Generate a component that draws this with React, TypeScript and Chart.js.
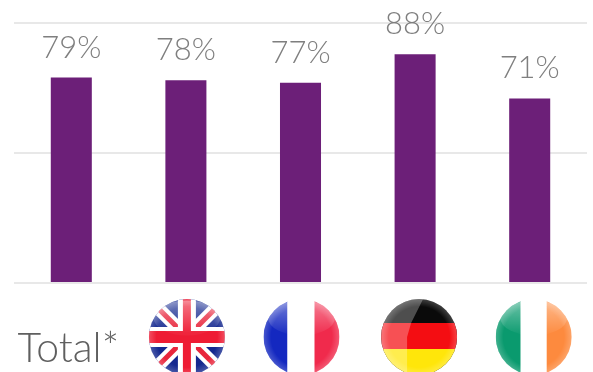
import React, { useEffect, useRef } from "react";
import { Chart, registerables } from "chart.js";

Chart.register(...registerables);

const categories = ["Total*", "UK", "France", "Germany", "Ireland"];
const shares = [79, 78, 77, 88, 71];
const yTicks = [0, 50, 100];

const FONT = "Lato, 'Open Sans', sans-serif";
const FLAG_RADIUS = 38;
const FLAG_CENTER_Y = 337;
const flagNudge: Record<string, number> = { UK: 1, France: 1, Germany: 4, Ireland: 4 };

type Ctx = CanvasRenderingContext2D;

function drawUnionJack(c: Ctx, r: number) {
  c.fillStyle = "#14288f";
  c.fillRect(-r, -r, 2 * r, 2 * r);
  const bar = (w: number, color: string, x1: number, y1: number, x2: number, y2: number) => {
    c.strokeStyle = color;
    c.lineWidth = w;
    c.beginPath();
    c.moveTo(x1, y1);
    c.lineTo(x2, y2);
    c.stroke();
  };
  bar(13, "#fff", -r, -r, r, r);
  bar(13, "#fff", -r, r, r, -r);
  bar(5, "#e8263c", -r, -r, r, r);
  bar(5, "#e8263c", -r, r, r, -r);
  bar(18, "#fff", 0, -r, 0, r);
  bar(20, "#fff", -r, 0, r, 0);
  bar(8, "#ee1c34", 0, -r, 0, r);
  bar(12, "#ee1c34", -r, 0, r, 0);
}

function drawVerticalTricolour(c: Ctx, r: number, colors: string[], left: number, right: number) {
  c.fillStyle = colors[0];
  c.fillRect(-r, -r, r + left, 2 * r);
  c.fillStyle = colors[1];
  c.fillRect(left, -r, right - left, 2 * r);
  c.fillStyle = colors[2];
  c.fillRect(right, -r, r - right, 2 * r);
}

function drawGermanBands(c: Ctx, r: number) {
  c.fillStyle = "#0a0a0a";
  c.fillRect(-r, -r, 2 * r, 2 * r);
  c.fillStyle = "#f40d12";
  c.fillRect(-r, -14, 2 * r, 27);
  c.fillStyle = "#ffe60a";
  c.fillRect(-r, 12, 2 * r, r);
  // Faceted highlight over the left of the sphere
  c.fillStyle = "rgba(255,255,255,0.28)";
  c.beginPath();
  c.moveTo(-r, -r);
  c.lineTo(4, -r);
  c.lineTo(-8, -14);
  c.lineTo(-12, 0);
  c.lineTo(-12, r);
  c.lineTo(-r, r);
  c.closePath();
  c.fill();
}

const flagPlugin = {
  id: "flagBadges",
  afterDraw(chart: any) {
    const c: Ctx = chart.ctx;
    const x = chart.scales.x;
    categories.forEach((name, i) => {
      if (!(name in flagNudge)) return;
      const r = FLAG_RADIUS;
      c.save();
      c.translate(x.getPixelForValue(i) + flagNudge[name], FLAG_CENTER_Y);
      c.beginPath();
      c.arc(0, 0, r, 0, Math.PI * 2);
      c.clip();
      if (name === "UK") drawUnionJack(c, r);
      if (name === "France") drawVerticalTricolour(c, r, ["#1428c0", "#ffffff", "#f02a4c"], -14, 13);
      if (name === "Germany") drawGermanBands(c, r);
      if (name === "Ireland") drawVerticalTricolour(c, r, ["#0a9a6e", "#ffffff", "#fd8a3e"], -13, 13);

      // Glossy cap on the upper half (the German flag carries its own facet)
      if (name !== "Germany") {
        const gloss = c.createLinearGradient(0, -r, 0, -4);
        gloss.addColorStop(0, "rgba(255,255,255,0.42)");
        gloss.addColorStop(1, "rgba(255,255,255,0.04)");
        c.fillStyle = gloss;
        c.beginPath();
        c.ellipse(0, -r * 0.5, r * 0.88, r * 0.46, 0, 0, Math.PI * 2);
        c.fill();
      }

      // Soft rim light around the sphere
      const rim = c.createRadialGradient(0, 0, r * 0.8, 0, 0, r);
      rim.addColorStop(0, "rgba(255,255,255,0)");
      rim.addColorStop(1, "rgba(255,255,255,0.22)");
      c.fillStyle = rim;
      c.fillRect(-r, -r, 2 * r, 2 * r);
      c.restore();
    });
  },
};

const valueLabelPlugin = {
  id: "valueLabels",
  afterDatasetsDraw(chart: any) {
    const c: Ctx = chart.ctx;
    const bars = chart.getDatasetMeta(0).data;
    c.save();
    c.font = `300 31px ${FONT}`;
    c.fillStyle = "#7f7f7f";
    c.textAlign = "center";
    c.textBaseline = "middle";
    bars.forEach((bar: any, i: number) => {
      c.fillText(`${shares[i]}%`, bar.x, bar.y - 30);
    });
    c.restore();
  },
};

export default function App() {
  const ref = useRef<HTMLCanvasElement>(null);

  useEffect(() => {
    const chart = new Chart(ref.current!, {
      type: "bar",
      data: {
        labels: categories,
        datasets: [
          {
            data: shares,
            backgroundColor: "#6c1f78",
            barPercentage: 0.358,
            categoryPercentage: 1,
          },
        ],
      },
      options: {
        responsive: false,
        animation: false,
        layout: { padding: { left: 14, right: 6, top: 23, bottom: 0 } },
        plugins: { legend: { display: false }, tooltip: { enabled: false } },
        scales: {
          x: {
            border: { display: false },
            grid: { display: false },
            afterFit: (scale: any) => {
              scale.height = 89;
              scale.paddingLeft = 0;
              scale.paddingRight = 0;
            },
            ticks: {
              color: "#5f5f5f",
              font: { family: FONT, size: 41, weight: "300" },
              maxRotation: 0,
              padding: 33,
              labelOffset: -3,
              autoSkip: false,
              callback: (_v: any, i: number) => (i === 0 ? categories[0] : ""),
            },
          },
          y: {
            display: true,
            min: 0,
            max: 100,
            afterFit: (scale: any) => {
              scale.width = 0;
            },
            afterBuildTicks: (scale: any) => {
              scale.ticks = yTicks.map((value) => ({ value }));
            },
            border: { display: false },
            grid: { color: "#e8e8e8", lineWidth: 2, drawTicks: false },
            ticks: { display: false },
          },
        },
      },
      plugins: [valueLabelPlugin, flagPlugin],
    });
    return () => chart.destroy();
  }, []);

  return (
    <canvas
      ref={ref}
      width={593}
      height={372}
      style={{ position: "absolute", left: 0, top: 0, background: "#fff" }}
    />
  );
}
